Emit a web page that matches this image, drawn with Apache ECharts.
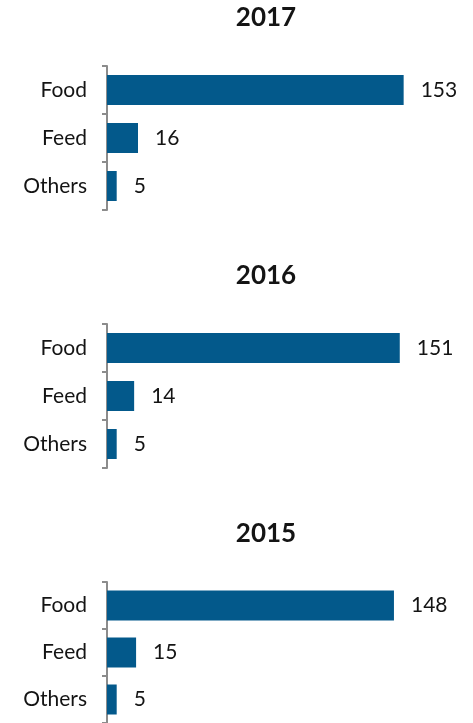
<!DOCTYPE html>
<html>
<head>
<meta charset="utf-8">
<script src="https://cdn.jsdelivr.net/npm/echarts@6/dist/echarts.min.js"></script>
<style>
  html, body { margin: 0; padding: 0; background: #fff; }
  #chart { width: 473px; height: 723px; }
</style>
</head>
<body>
<div id="chart"></div>
<script>
// Use by sector, per year
const categories = ['Food', 'Feed', 'Others'];
const years = ['2017', '2016', '2015'];
const values2017 = [153, 16, 5];
const values2016 = [151, 14, 5];
const values2015 = [148, 15, 5];
const yearValues = [values2017, values2016, values2015];

const FONT = 'Lato, "Open Sans", sans-serif';
const BAR = '#03598b';
const AXIS = '#8c8c8c';
const TXT = '#141414';

const panelTop = [66, 324, 582];
const panelH = 144;
const gridLeft = 107;
const gridW = 349;

const chart = echarts.init(document.getElementById('chart'), null, { renderer: 'canvas' });

const option = {
  animation: false,
  backgroundColor: '#fff',
  // Year headings centred above each panel
  graphic: years.map((y, i) => ({
    type: 'text',
    x: 266,
    y: panelTop[i] - 48,
    style: {
      text: y,
      fontFamily: FONT, fontWeight: 'bold', fontSize: 26, fill: TXT,
      align: 'center', verticalAlign: 'middle'
    }
  })),
  grid: years.map((y, i) => ({
    left: gridLeft, top: panelTop[i], width: gridW, height: panelH, containLabel: false
  })),
  xAxis: years.map((y, i) => ({
    type: 'value', gridIndex: i, min: 0, max: 180, show: false
  })),
  yAxis: years.map((y, i) => ({
    type: 'category', gridIndex: i, data: categories, inverse: true,
    axisLine: { show: true, lineStyle: { color: AXIS, width: 2 } },
    axisTick: { show: true, length: 5, lineStyle: { color: AXIS, width: 2 } },
    axisLabel: { margin: 20, fontFamily: FONT, fontSize: 21, color: TXT },
    splitLine: { show: false }
  })),
  series: years.map((y, i) => ({
    type: 'bar', name: y, xAxisIndex: i, yAxisIndex: i,
    data: yearValues[i],
    barWidth: 30,
    itemStyle: { color: BAR },
    label: {
      show: true, position: 'right', distance: 17,
      fontFamily: FONT, fontSize: 21, color: TXT
    }
  }))
};

chart.setOption(option);
</script>
</body>
</html>
